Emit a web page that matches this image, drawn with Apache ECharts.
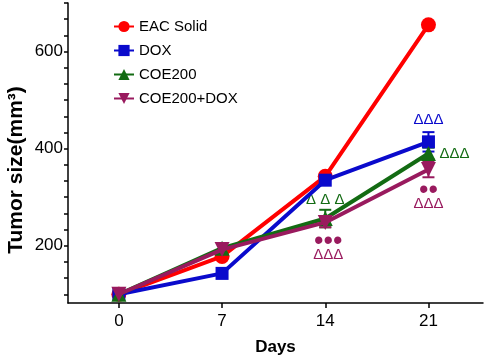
<!DOCTYPE html>
<html>
<head>
<meta charset="utf-8">
<script src="https://cdn.jsdelivr.net/npm/echarts@6/dist/echarts.min.js"></script>
<style>
  html, body { margin: 0; padding: 0; background: #fff; }
  #chart { width: 484px; height: 362px; }
</style>
</head>
<body>
<div id="chart"></div>
<script>
// data
const days = [0, 7, 14, 21];
const eacSolid = [100, 178, 343, 655];
const dox = [100, 143, 335, 414];
const coe200 = [100, 195, 256, 390];
const coeDox = [100, 192, 248, 357];

// +/- error (0 = no visible bar)
const doxErr = [0, 0, 0, 20];
const coeErr = [0, 0, 18, 12];
const coeDoxErr = [0, 0, 10, 16];

const xTicks = [0, 7, 14, 21];
const yLabels = [200, 400, 600];
const yTicks = [100, 133.3, 166.7, 200, 233.3, 266.7, 300, 333.3, 366.7, 400,
  433.3, 466.7, 500, 533.3, 566.7, 600, 633.3, 666.7, 700];

const RED = '#ff0000', BLUE = '#0a0acc', GREEN = '#136b13', PURPLE = '#991a5e';
const downTri = 'path://M0,0 L10,0 L5,9 Z';

const font = 'Liberation Sans, Arial, sans-serif';

function pairs(vals) {
  return days.map((d, i) => [d, vals[i]]);
}

function errBars(name, vals, errs, color) {
  const data = [];
  days.forEach((d, i) => {
    if (errs[i] > 0) data.push([d, vals[i] - errs[i], vals[i] + errs[i]]);
  });
  return {
    name: name + ' err',
    type: 'custom',
    data: data,
    z: 3,
    renderItem: function (params, api) {
      const lo = api.coord([api.value(0), api.value(1)]);
      const hi = api.coord([api.value(0), api.value(2)]);
      const w = 6;
      const st = { stroke: color, lineWidth: 2 };
      return {
        type: 'group',
        children: [
          { type: 'line', shape: { x1: lo[0], y1: lo[1], x2: hi[0], y2: hi[1] }, style: st },
          { type: 'line', shape: { x1: lo[0] - w, y1: lo[1], x2: lo[0] + w, y2: lo[1] }, style: st },
          { type: 'line', shape: { x1: hi[0] - w, y1: hi[1], x2: hi[0] + w, y2: hi[1] }, style: st }
        ]
      };
    }
  };
}

function notes(items, color) {
  return {
    symbol: 'circle',
    symbolSize: 0,
    silent: true,
    label: {
      show: true,
      position: 'inside',
      color: color,
      fontFamily: font,
      formatter: p => p.data.text,
      rich: {
        t: { fontSize: 15, lineHeight: 14, color: color, fontFamily: font },
        d: { fontSize: 27, lineHeight: 12, color: color, fontFamily: font }
      }
    },
    data: items.map(it => ({
      coord: it.coord,
      text: it.text,
      label: { offset: it.offset }
    }))
  };
}

function lineSeries(name, vals, color, symbol, size, z, mp) {
  const s = {
    name: name,
    type: 'line',
    data: pairs(vals),
    symbol: symbol,
    symbolSize: size,
    z: z,
    color: color,
    lineStyle: { color: color, width: 4 },
    itemStyle: { color: color }
  };
  if (mp) s.markPoint = mp;
  return s;
}

const chart = echarts.init(document.getElementById('chart'));

chart.setOption({
  animation: false,
  grid: { left: 68, right: 1, top: 3, bottom: 59 },
  graphic: [{
    type: 'text',
    x: 16,
    y: 170,
    rotation: Math.PI / 2,
    style: {
      text: 'Tumor size(mm³)',
      fontFamily: font,
      fontSize: 21,
      fontWeight: 'bold',
      fill: '#000',
      align: 'center',
      verticalAlign: 'middle'
    }
  }],
  legend: {
    orient: 'vertical',
    left: 108,
    top: 14,
    itemWidth: 20,
    itemHeight: 14,
    itemGap: 9,
    textStyle: { fontFamily: font, fontSize: 15, color: '#000' },
    data: ['EAC Solid', 'DOX', 'COE200', 'COE200+DOX']
  },
  xAxis: {
    type: 'value',
    min: -3.45,
    max: 24.7,
    name: 'Days',
    nameLocation: 'middle',
    nameGap: 36,
    nameTextStyle: { fontFamily: font, fontSize: 17, fontWeight: 'bold', color: '#000' },
    axisLine: { onZero: false, lineStyle: { color: '#000', width: 1.5 } },
    axisTick: { customValues: xTicks, length: 5, lineStyle: { color: '#000', width: 1.5 } },
    axisLabel: { customValues: xTicks, fontFamily: font, fontSize: 17, color: '#000', margin: 10 },
    splitLine: { show: false }
  },
  yAxis: {
    type: 'value',
    min: 82,
    max: 700,
    axisLine: { show: true, onZero: false, lineStyle: { color: '#000', width: 1.5 } },
    axisTick: { customValues: yTicks, length: 4, lineStyle: { color: '#000', width: 1.5 } },
    axisLabel: { customValues: yLabels, fontFamily: font, fontSize: 17, color: '#000', margin: 5 },
    splitLine: { show: false }
  },
  series: [
    lineSeries('EAC Solid', eacSolid, RED, 'circle', 15, 4),
    errBars('DOX', dox, doxErr, BLUE),
    lineSeries('DOX', dox, BLUE, 'rect', 13, 5, notes([
      { coord: [21, 414], text: '{t|ΔΔΔ}', offset: [0, -22] }
    ], BLUE)),
    errBars('COE200', coe200, coeErr, GREEN),
    lineSeries('COE200', coe200, GREEN, 'triangle', 15, 6, notes([
      { coord: [21, 390], text: '{t|ΔΔΔ}', offset: [26, 0] },
      { coord: [14, 256], text: '{t|Δ Δ Δ}', offset: [0, -19] }
    ], GREEN)),
    errBars('COE200+DOX', coeDox, coeDoxErr, PURPLE),
    lineSeries('COE200+DOX', coeDox, PURPLE, downTri, 15, 7, notes([
      { coord: [21, 357], text: '{d|••}\n{t|ΔΔΔ}', offset: [0, 28] },
      { coord: [14, 248], text: '{d|•••}\n{t|ΔΔΔ}', offset: [3, 26] }
    ], PURPLE))
  ]
});
</script>
</body>
</html>
